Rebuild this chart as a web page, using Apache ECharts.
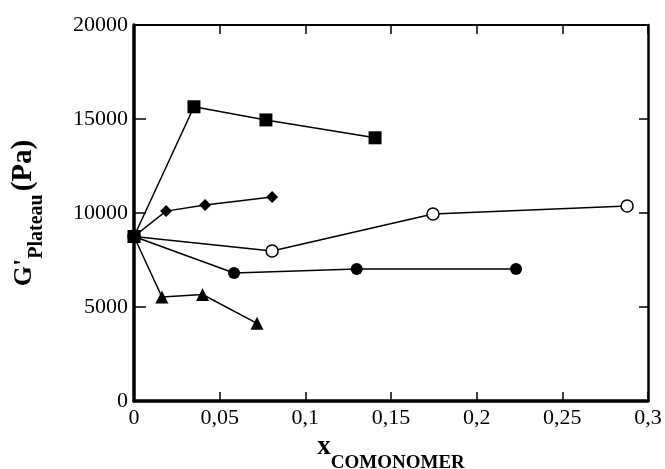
<!DOCTYPE html>
<html>
<head>
<meta charset="utf-8">
<script src="https://cdn.jsdelivr.net/npm/echarts@6/dist/echarts.min.js"></script>
<style>
  html, body { margin: 0; padding: 0; background: #fff; }
  #plateau { width: 665px; height: 469px; }
</style>
</head>
<body>
<div id="plateau"></div>
<script>
// x = comonomer fraction, y = G'plateau (Pa)
const origin = [0, 8750]
const squares = [origin, [0.035, 15650], [0.077, 14950], [0.1407, 14000]]
const diamonds = [origin, [0.0187, 10100], [0.0415, 10420], [0.0806, 10850]]
const openCircles = [origin, [0.0806, 7980], [0.1745, 9950], [0.2878, 10370]]
const filledCircles = [origin, [0.0584, 6810], [0.130, 7020], [0.223, 7020]]
const triangles = [origin, [0.0163, 5530], [0.040, 5665], [0.0718, 4130]]
const xTickLabels = ['0', '0,05', '0,1', '0,15', '0,2', '0,25', '0,3']
const yTickLabels = ['0', '5000', '10000', '15000', '20000']

const font = 'Liberation Serif'
const chartDom = document.getElementById('plateau')
const myChart = echarts.init(chartDom)

const mkSeries = function (data, symbol, size, filled, z) {
  return {
    type: 'line',
    data: data,
    symbol: symbol,
    symbolSize: size,
    showAllSymbol: true,
    animation: false,
    z: z,
    lineStyle: { color: '#000', width: 1.5 },
    itemStyle: {
      color: filled ? '#000' : '#fff',
      borderColor: '#000',
      borderWidth: filled ? 0 : 1.5
    }
  }
}

// box axes: thick bottom/left with labels, thinner top/right with ticks only
const boxAxis = function (pos, lineW, tickLen) {
  return {
    type: 'value',
    position: pos,
    axisLine: { show: true, onZero: false, lineStyle: { color: '#000', width: lineW } },
    axisTick: { show: true, inside: true, length: tickLen, lineStyle: { color: '#000', width: 1.5 } },
    splitLine: { show: false }
  }
}

const option = {
  backgroundColor: '#fff',
  textStyle: { fontFamily: font, color: '#000' },
  grid: { left: 134, right: 17, top: 25, bottom: 68, outerBoundsMode: 'none', containLabel: false },
  xAxis: [
    Object.assign(boxAxis('bottom', 3.5, 9), {
      min: 0,
      max: 0.3,
      interval: 0.05,
      axisLabel: {
        fontFamily: font,
        fontSize: 22,
        color: '#000',
        margin: 6,
        formatter: function (v, i) { return xTickLabels[i] }
      },
      name: '{x|x}{sub|COMONOMER}',
      nameLocation: 'middle',
      nameGap: 20,
      nameTextStyle: {
        rich: {
          x: { fontFamily: font, fontSize: 27, fontWeight: 'bold', color: '#000', verticalAlign: 'middle' },
          sub: { fontFamily: font, fontSize: 19, fontWeight: 'bold', color: '#000', verticalAlign: 'bottom', padding: [32, 0, 0, 0] }
        }
      }
    }),
    Object.assign(boxAxis('top', 2, 9), {
      min: 0,
      max: 0.3,
      interval: 0.05,
      axisLabel: { show: false }
    })
  ],
  yAxis: [
    Object.assign(boxAxis('left', 3.5, 12), {
      min: 0,
      max: 20000,
      interval: 5000,
      axisLabel: {
        fontFamily: font,
        fontSize: 22,
        color: '#000',
        margin: 6,
        formatter: function (v, i) { return yTickLabels[i] }
      },
      name: '{g|G\'}{sub|Plateau}{pa|(Pa)}',
      nameLocation: 'middle',
      nameGap: 87,
      nameTextStyle: {
        rich: {
          g: { fontFamily: font, fontSize: 26, fontWeight: 'bold', color: '#000', verticalAlign: 'middle' },
          pa: { fontFamily: font, fontSize: 29, fontWeight: 'bold', color: '#000', verticalAlign: 'middle', padding: [0, 0, 0, 3] },
          sub: { fontFamily: font, fontSize: 20, fontWeight: 'bold', color: '#000', verticalAlign: 'bottom', padding: [26, 0, 0, 0] }
        }
      }
    }),
    Object.assign(boxAxis('right', 2.5, 9), {
      min: 0,
      max: 20000,
      interval: 5000,
      axisLabel: { show: false }
    })
  ],
  series: [
    mkSeries(diamonds, 'diamond', 12, true, 2),
    mkSeries(openCircles, 'circle', 12, false, 2),
    mkSeries(filledCircles, 'circle', 12, true, 2),
    mkSeries(triangles, 'triangle', 13, true, 2),
    mkSeries(squares, 'rect', 13, true, 5)
  ]
}

option && myChart.setOption(option)
window.addEventListener('resize', function () {
  myChart.resize()
})
</script>
</body>
</html>
